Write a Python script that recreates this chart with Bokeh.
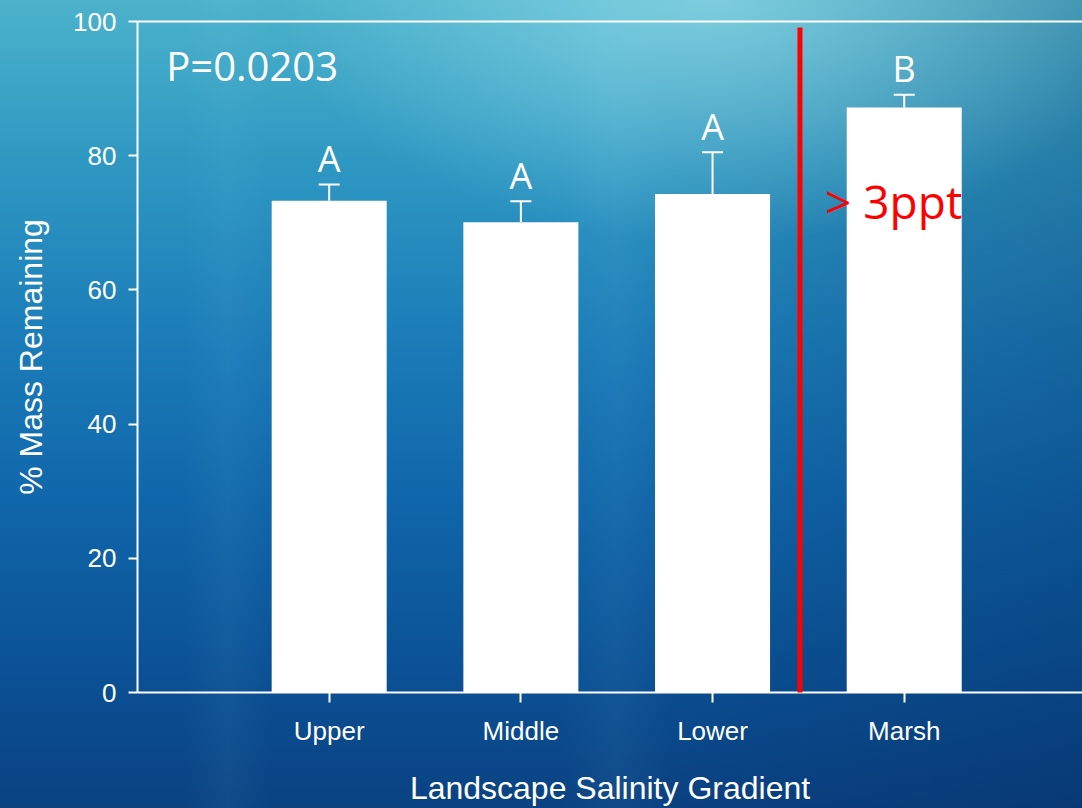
from bokeh.plotting import figure
from bokeh.models import (ColumnDataSource, Range1d, LinearAxis, FixedTicker,
                          Whisker, TeeHead, Arrow)
from bokeh.core.properties import value
from bokeh.embed import file_html
from bokeh.resources import INLINE

# Litter-bag decomposition along the salinity gradient
categories = ["Upper", "Middle", "Lower", "Marsh"]
mass_remaining = [73.3, 70.1, 74.3, 87.2]
std_error = [2.4, 3.1, 6.2, 1.9]
group_letters = ["A", "A", "A", "B"]
y_ticks = [0, 20, 40, 60, 80, 100]
p_value_text = "P=0.0203"
salinity_note = "> 3ppt"
salinity_break_x = 3.456

x_pos = [i + 1 for i in range(len(categories))]
upper = [m + e for m, e in zip(mass_remaining, std_error)]
src = ColumnDataSource(dict(x=x_pos, cat=categories, top=mass_remaining,
                            upper=upper, letter=group_letters))

WHITE = "#ffffff"
AXIS_FONT = "Liberation Sans"

p = figure(width=1082, height=808, x_range=Range1d(0, 4.93), y_range=Range1d(0, 100),
           output_backend="svg", toolbar_location=None,
           x_axis_label="Landscape Salinity Gradient", y_axis_label="% Mass Remaining",
           min_border_left=137, min_border_right=0, min_border_top=21, min_border_bottom=115)

# deep-water backdrop behind a transparent canvas
p.background_fill_alpha = 0
p.border_fill_alpha = 0
p.outline_line_color = None
p.styles = {
    "background": (
        "radial-gradient(ellipse 40% 30% at 66% 0%, rgba(160,228,238,0.60), rgba(160,228,238,0) 100%),"
        "linear-gradient(to right, rgba(255,255,255,0) 17%, rgba(140,215,235,0.06) 21%, rgba(255,255,255,0) 25%,"
        " rgba(255,255,255,0) 52%, rgba(140,215,235,0.06) 57%, rgba(255,255,255,0) 62%),"
        "linear-gradient(to right, rgba(0,25,70,0) 55%, rgba(0,25,70,0.22) 100%),"
        "linear-gradient(to bottom, #4cb2cb 0%, #2e98c2 20%, #1b7cb8 42%, #1066aa 62%, #0b5296 82%, #0a4282 100%)"
    )
}
p.xgrid.visible = False
p.ygrid.visible = False

# bars
p.vbar(x="x", top="top", width=0.6, source=src, fill_color=WHITE, line_color=None)

# upper error bars only
p.add_layout(Whisker(source=src, base="x", lower="top", upper="upper",
                     line_color=WHITE, line_width=2, lower_head=None,
                     upper_head=TeeHead(size=21, line_color=WHITE, line_width=2)))

# significance letters above the error caps
p.text(x="x", y="upper", text="letter", source=src, text_align="center",
       text_baseline="middle", y_offset=-26, text_color=WHITE,
       text_font=value("Open Sans"), text_font_size="36px")

# p-value
p.text(x=[0.15], y=[93.4], text=[p_value_text], text_color=WHITE,
       text_font=value("Open Sans"), text_font_size="40px",
       text_baseline="middle", text_align="left")

# salinity threshold divider and note
p.add_layout(Arrow(end=None, x_start=salinity_break_x, y_start=99.1,
                   x_end=salinity_break_x, y_end=-1.0,
                   line_color="#ff0000", line_width=5))
p.text(x=[3.587], y=[73.3], text=[salinity_note], text_color="#ff0000",
       text_font=value("Open Sans"), text_font_size="46px",
       text_baseline="middle", text_align="left")

# axes
xa = p.xaxis[0]
xa.ticker = FixedTicker(ticks=x_pos)
xa.major_label_overrides = {x: c for x, c in zip(x_pos, categories)}
ya = p.yaxis[0]
ya.ticker = FixedTicker(ticks=y_ticks)
for ax in (xa, ya):
    ax.axis_line_color = WHITE
    ax.axis_line_width = 2
    ax.major_tick_line_color = WHITE
    ax.major_tick_line_width = 2
    ax.major_tick_in = 0
    ax.minor_tick_line_color = None
    ax.major_label_text_color = WHITE
    ax.major_label_text_font = AXIS_FONT
    ax.major_label_text_font_size = "26px"
    ax.axis_label_text_color = WHITE
    ax.axis_label_text_font = AXIS_FONT
    ax.axis_label_text_font_size = "32px"
    ax.axis_label_text_font_style = "normal"
xa.major_tick_out = 10
xa.major_label_standoff = 13
xa.axis_label_standoff = 21
ya.major_tick_out = 9
ya.major_label_standoff = 12
ya.axis_label_standoff = 21

top_axis = LinearAxis(ticker=FixedTicker(ticks=[]), axis_line_color=WHITE, axis_line_width=2,
                      major_tick_line_color=None, minor_tick_line_color=None,
                      major_label_text_font_size="0px")
p.add_layout(top_axis, "above")

open("out.html", "w").write(file_html(p, INLINE))
